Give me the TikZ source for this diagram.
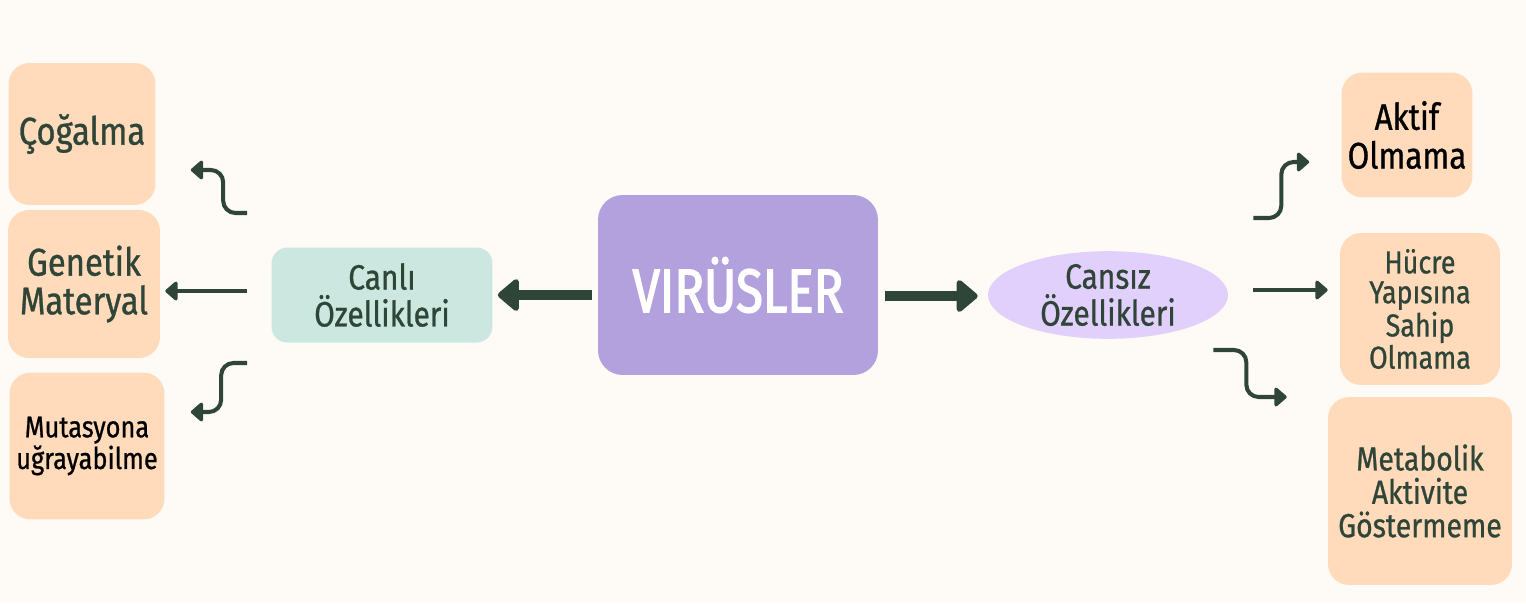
\documentclass[tikz,border=0pt]{standalone}
\usepackage{xcolor}
\usepackage{fontspec}
\setmainfont{Fira Sans}[FakeStretch=0.85, FakeBold=0.8]
\newfontfamily\headfont{Fira Sans}[FakeStretch=0.8, FakeBold=2.2]
\usetikzlibrary{arrows.meta,shapes.geometric}

\definecolor{paper}{HTML}{FEFAF6}
\definecolor{peach}{HTML}{FFDBBC}
\definecolor{mint}{HTML}{CCE7E0}
\definecolor{grape}{HTML}{B3A1DE}
\definecolor{lilac}{HTML}{E1CFFC}
\definecolor{ink}{HTML}{2F4538}

\begin{document}
\begin{tikzpicture}[x=0.02cm,y=-0.02cm,
    leaf/.style={fill=peach, rounded corners=12pt, align=center, text=ink, inner sep=0pt},
    conn/.style={draw=ink, line width=2.3pt, rounded corners=7pt, -{Triangle[round,length=7.5pt,width=12.5pt]}},
    bigconn/.style={draw=ink, line width=5.6pt, -{Triangle[round,length=13pt,width=21pt]}}]
    % Background
    \fill[paper] (0,0) rectangle (1526,603);

    % Centre
    \node[fill=grape, rounded corners=14pt, minimum width=5.6cm, minimum height=3.6cm, text=white,
          font=\headfont\fontsize{35}{40}\selectfont] (virus) at (738,285) {VIRÜSLER};
    \node[fill=mint, rounded corners=9pt, minimum width=4.42cm, minimum height=1.9cm, align=center, text=ink,
          font=\fontsize{20}{21}\selectfont] (canli) at (382,295) {Canlı\\Özellikleri};
    \node[ellipse, fill=lilac, minimum width=4.8cm, minimum height=1.7cm, inner sep=0pt, align=center, text=ink,
          font=\fontsize{20}{21}\selectfont] (cansiz) at (1108,295) {Cansız\\Özellikleri};

    % Left leaves
    \node[leaf, minimum width=2.94cm, minimum height=2.84cm, font=\fontsize{22}{24}\selectfont] (cogalma) at (82,134) {Çoğalma};
    \node[leaf, minimum width=3.04cm, minimum height=2.96cm, font=\fontsize{22}{22}\selectfont] (genetik) at (84,284) {Genetik\\Materyal};
    \node[leaf, minimum width=3.1cm, minimum height=2.94cm, text=black, font=\fontsize{17}{17}\selectfont] (mutasyon) at (87,446) {Mutasyona\\uğrayabilme};

    % Right leaves
    \node[leaf, minimum width=2.62cm, minimum height=2.5cm, text=black, font=\fontsize{21}{22}\selectfont] (aktif) at (1407,135) {Aktif\\Olmama};
    \node[leaf, minimum width=3.2cm, minimum height=3.04cm, font=\fontsize{18}{17}\selectfont] (hucre) at (1420,309) {Hücre\\Yapısına\\Sahip\\Olmama};
    \node[leaf, minimum width=3.68cm, minimum height=3.76cm, font=\fontsize{19}{19}\selectfont] (metabolik) at (1420,491) {Metabolik\\Aktivite\\Göstermeme};

    % Main arrows
    \draw[bigconn] ([shift={(-6,10)}]virus.west) -- ([shift={(5,0)}]canli.east);
    \draw[bigconn] ([shift={(7,11)}]virus.east) -- ([shift={(-10,1)}]cansiz.west);

    % Left branches
    \draw[conn] ([shift={(-24,-82)}]canli.west) -- ++(-24,0) |- ([shift={(35,36)}]cogalma.east);
    \draw[conn] ([shift={(-24,-4)}]canli.west) -- ([shift={(5,7)}]genetik.east);
    \draw[conn] ([shift={(-24,68)}]canli.west) -- ++(-26,0) |- ([shift={(26,-34)}]mutasyon.east);

    % Right branches
    \draw[conn] ([shift={(25,-77)}]cansiz.east) -- ++(28,0) |- ([shift={(-32,27)}]aktif.west);
    \draw[conn] ([shift={(25,-5)}]cansiz.east) -- ([shift={(-12,-19)}]hucre.west);
    \draw[conn] ([shift={(-15,55)}]cansiz.east) -- ++(33,0) |- ([shift={(-41,-94)}]metabolik.west);
\end{tikzpicture}
\end{document}
